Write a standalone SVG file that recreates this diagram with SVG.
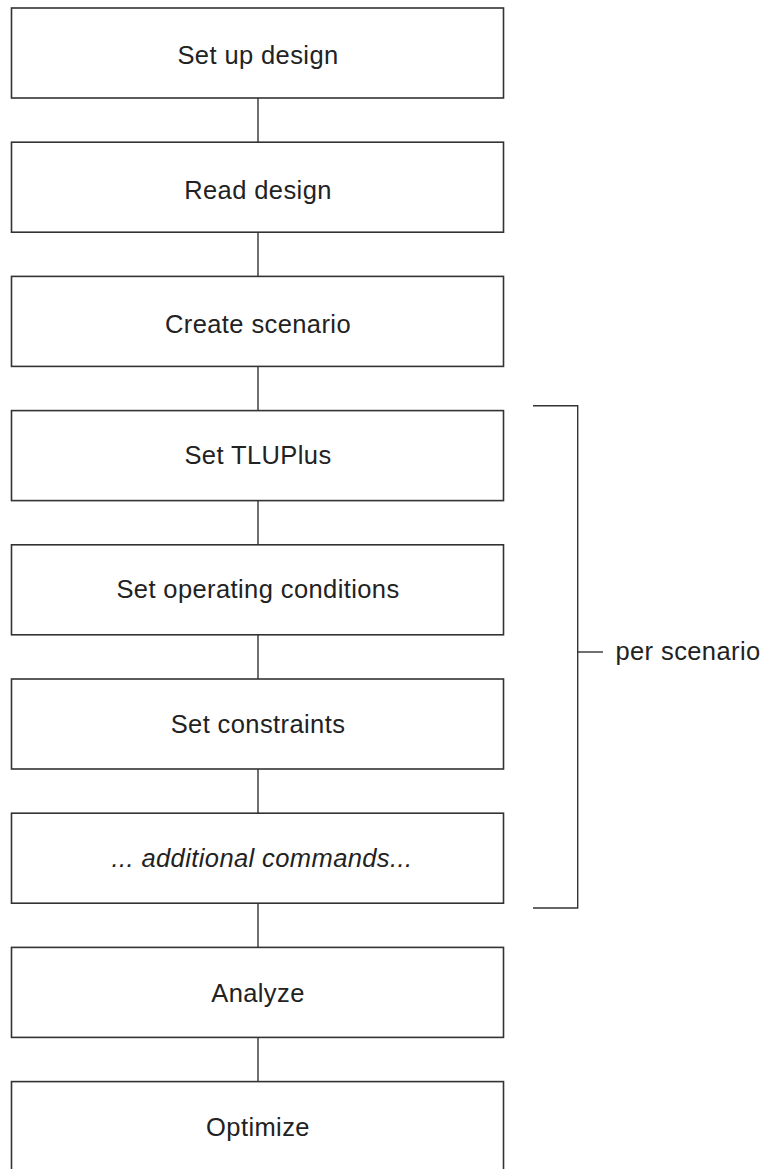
<svg xmlns="http://www.w3.org/2000/svg" width="767" height="1169" viewBox="0 0 767 1169">
<style>
.box{fill:#fff;stroke:#333;stroke-width:1.6}
.ln{fill:none;stroke:#333;stroke-width:1.4}
.t{font-family:"Liberation Sans",Arial,sans-serif;font-size:25.5px;letter-spacing:0.4px;fill:#222;text-anchor:middle}
.i{font-style:italic}
</style>
<rect width="767" height="1169" fill="#fff"/>
<g id="connectors">
<line class="ln" x1="258" y1="98" x2="258" y2="142"/>
<line class="ln" x1="258" y1="232" x2="258" y2="276"/>
<line class="ln" x1="258" y1="366" x2="258" y2="411"/>
<line class="ln" x1="258" y1="500" x2="258" y2="545"/>
<line class="ln" x1="258" y1="635" x2="258" y2="679"/>
<line class="ln" x1="258" y1="769" x2="258" y2="813"/>
<line class="ln" x1="258" y1="903" x2="258" y2="947"/>
<line class="ln" x1="258" y1="1037" x2="258" y2="1082"/>
</g>
<g id="n1"><rect class="box" x="11.5" y="8" width="492" height="90"/><text class="t" x="258" y="64">Set up design</text></g>
<g id="n2"><rect class="box" x="11.5" y="142.2" width="492" height="90"/><text class="t" x="258" y="198.5">Read design</text></g>
<g id="n3"><rect class="box" x="11.5" y="276.4" width="492" height="90"/><text class="t" x="258" y="332.7">Create scenario</text></g>
<g id="n4"><rect class="box" x="11.5" y="410.6" width="492" height="90"/><text class="t" x="258" y="464">Set TLUPlus</text></g>
<g id="n5"><rect class="box" x="11.5" y="544.8" width="492" height="90"/><text class="t" x="258" y="598.3">Set operating conditions</text></g>
<g id="n6"><rect class="box" x="11.5" y="679" width="492" height="90"/><text class="t" x="258" y="733">Set constraints</text></g>
<g id="n7"><rect class="box" x="11.5" y="813.2" width="492" height="90"/><text class="t i" x="262" y="867">... additional commands...</text></g>
<g id="n8"><rect class="box" x="11.5" y="947.4" width="492" height="90"/><text class="t" x="258" y="1001.5">Analyze</text></g>
<g id="n9"><rect class="box" x="11.5" y="1081.6" width="492" height="100"/><text class="t" x="258" y="1136">Optimize</text></g>
<g id="bracket">
<polyline class="ln" points="533,405.7 577.7,405.7 577.7,908 533,908"/>
<line class="ln" x1="577.7" y1="652" x2="603" y2="652"/>
<text class="t" x="688" y="660">per scenario</text>
</g>
</svg>
